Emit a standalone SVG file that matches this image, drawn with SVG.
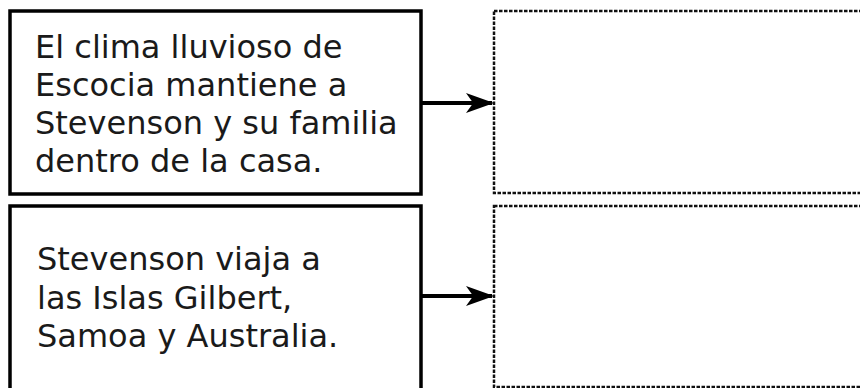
<svg xmlns="http://www.w3.org/2000/svg" width="860" height="388" viewBox="0 0 860 388">
<style>
.box{fill:#fff;stroke:#000;stroke-width:3.5}
.blank{fill:#fff;stroke:#111;stroke-width:2.5;stroke-dasharray:3.5 1.5}
.t{font-family:"DejaVu Sans",Verdana,sans-serif;font-size:32px;fill:#1a1a1a}
.c{stroke:#000;stroke-width:4;fill:none}
</style>
<defs>
<marker id="ah" markerWidth="7" markerHeight="5" refX="6.5" refY="2.5" orient="auto" markerUnits="strokeWidth">
<path d="M0,0 L7,2.5 L0,5 L1.8,2.5 Z" fill="#000"/>
</marker>
</defs>
<g id="connectors">
<line class="c" x1="421" y1="103" x2="492" y2="103" marker-end="url(#ah)"/>
<line class="c" x1="421" y1="296" x2="492" y2="296" marker-end="url(#ah)"/>
</g>
<g id="n1">
<rect class="box" x="10" y="11" width="411" height="183"/>
<text class="t"><tspan x="35" y="58">El clima lluvioso de</tspan><tspan x="35" y="96">Escocia mantiene a</tspan><tspan x="35" y="134">Stevenson y su familia</tspan><tspan x="35" y="172">dentro de la casa.</tspan></text>
</g>
<g id="n2">
<rect class="box" x="10" y="206" width="411" height="190"/>
<text class="t"><tspan x="37" y="270">Stevenson viaja a</tspan><tspan x="37" y="309">las Islas Gilbert,</tspan><tspan x="37" y="347">Samoa y Australia.</tspan></text>
</g>
<g id="n3">
<rect class="blank" x="494" y="11" width="380" height="182"/>
</g>
<g id="n4">
<rect class="blank" x="494" y="206" width="380" height="181"/>
</g>
</svg>
